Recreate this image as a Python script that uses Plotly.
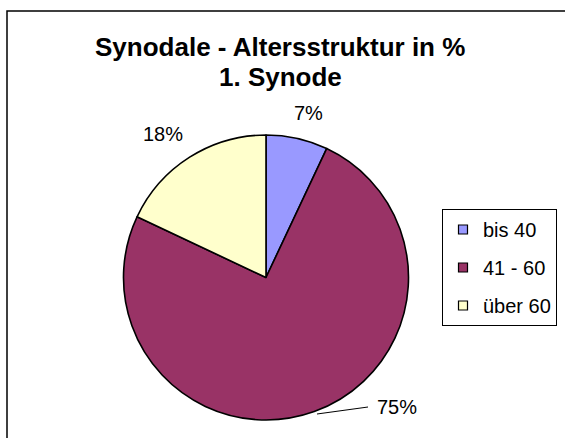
import plotly.graph_objects as go

categories = ["bis 40", "41 - 60", "über 60"]
values = [7, 75, 18]
colors = ["#9999FF", "#993366", "#FFFFCC"]
title_lines = ["Synodale - Altersstruktur in %", "1. Synode"]

W, H = 565, 438
FONT = "Liberation Sans, Arial, sans-serif"

def px(x):
    return x / W

def py(y):
    return 1 - y / H

fig = go.Figure()
fig.add_trace(go.Pie(
    labels=categories, values=values, sort=False, direction="clockwise",
    rotation=0, textinfo="none", hoverinfo="label+percent",
    marker=dict(colors=colors, line=dict(color="black", width=1.6)),
    domain=dict(x=[px(123), px(409)], y=[py(420), py(135)]),
    showlegend=False,
))

# legend entries
for name, c in zip(categories, colors):
    fig.add_trace(go.Scatter(
        x=[None], y=[None], mode="markers", name=name, legendgroup=name,
        marker=dict(symbol="square", size=9, color=c, line=dict(color="black", width=1.2)),
    ))

# percentage labels
label_pos = [(308.5, 113, "center"), (375, 406.5, "left"), (163, 134, "center")]
for v, (lx, ly, anc) in zip(values, label_pos):
    fig.add_annotation(x=px(lx), y=py(ly), xref="paper", yref="paper",
                       text=f"{v}%", showarrow=False, xanchor=anc, yanchor="middle",
                       font=dict(family=FONT, size=20, color="black"))

# leader line for 75%
fig.add_shape(type="line", xref="paper", yref="paper",
              x0=px(317), y0=py(414), x1=px(368), y1=py(407),
              line=dict(color="black", width=1))

# outer frame
fig.add_shape(type="rect", xref="paper", yref="paper",
              x0=px(7), y0=-0.1, x1=1.1, y1=py(11),
              line=dict(color="black", width=1.5), fillcolor="rgba(0,0,0,0)")

# title lines
for text, ty in zip(title_lines, [47, 77]):
    fig.add_annotation(x=px(280), y=py(ty), xref="paper", yref="paper",
                       text=f"<b>{text}</b>", showarrow=False,
                       xanchor="center", yanchor="middle",
                       font=dict(family=FONT, size=26, color="black"))

fig.update_layout(
    width=W, height=H, margin=dict(l=0, r=0, t=0, b=0),
    paper_bgcolor="white", plot_bgcolor="white",
    xaxis=dict(visible=False), yaxis=dict(visible=False),
    legend=dict(x=px(557), y=py(209), xanchor="right", yanchor="top",
                bordercolor="black", borderwidth=1, bgcolor="white",
                font=dict(family=FONT, size=20, color="black"),
                tracegroupgap=9, itemwidth=30),
    showlegend=True,
)

fig.write_html("out.html", config={"displayModeBar": False},
               post_script="document.body.style.margin='0';")
